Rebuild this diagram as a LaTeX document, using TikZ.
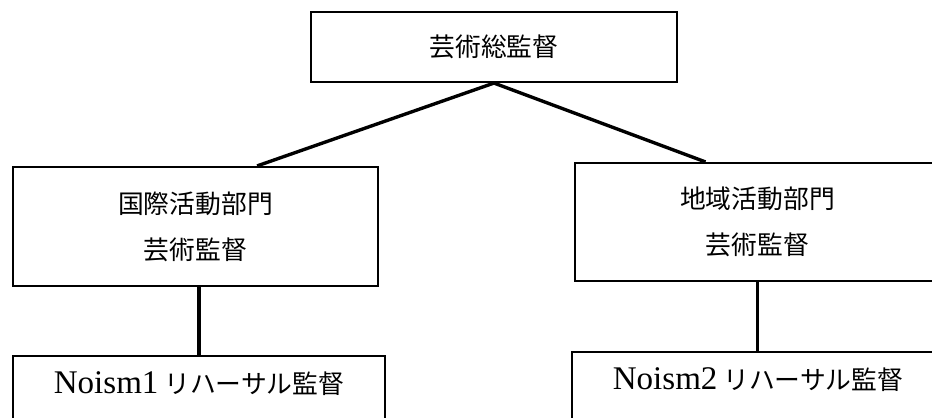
\documentclass[tikz,border=0pt]{standalone}
\usepackage{fontspec}
\setmainfont{Liberation Serif}
\newfontfamily\cjk{Noto Sans CJK JP}[Scale=0.78]
\tikzset{box/.style={draw=black, line width=1.5pt, rectangle, inner sep=0pt,
  align=center, font=\fontsize{23.5}{32.7}\selectfont\cjk},
 link/.style={draw, line width=2.4pt},
 }

\begin{document}
\begin{tikzpicture}[x=0.025cm, y=-0.025cm]
        \useasboundingbox (0, 0) rectangle (932, 418);
        \clip (0, 0) rectangle (932, 418);
        \node [box, minimum width=9.15cm, minimum height=1.75cm] (chief) at (494, 47) {芸術総監督};
        \node [box, minimum width=9.125cm, minimum height=2.975cm] (intl) at (195.5, 226.5) {国際活動部門\\芸術監督};
        \node [box, minimum width=9.125cm, minimum height=2.95cm] (local) at (757.5, 222) {地域活動部門\\芸術監督};
        \node [box, anchor=north, minimum width=9.3cm, inner ysep=.4cm, text depth=1.5cm] (reh1) at (199, 355) {{\rmfamily Noism1} リハーサル監督};
        \node [box, anchor=north, minimum width=9.3cm, inner ysep=.4cm, text depth=1.5cm] (reh2) at (758, 351) {{\rmfamily Noism2} リハーサル監督};
        \draw [link] (chief.south) -- ([xshift=1.54cm]intl.north);
        \draw [link] (chief.south) -- ([xshift=-1.3cm]local.north);
        \draw [link] (reh1.north |- intl.south) -- (reh1.north);
        \draw [link] (local.south) -- (local.south |- reh2.north);
    \end{tikzpicture}
\end{document}
